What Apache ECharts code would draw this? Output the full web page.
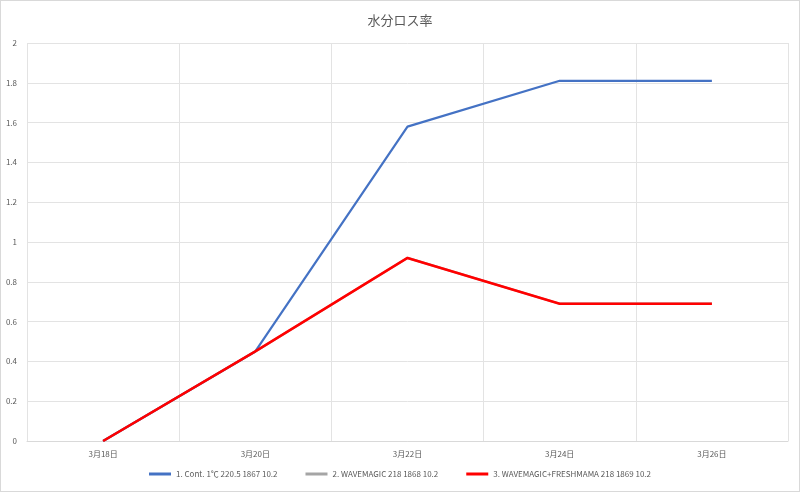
<!DOCTYPE html>
<html>
<head>
<meta charset="utf-8">
<script src="https://cdn.jsdelivr.net/npm/echarts@6/dist/echarts.min.js"></script>
<style>
html,body{margin:0;padding:0;background:#fff;}
#wrap{position:absolute;left:0;top:0;width:798px;height:490px;border:1px solid #d9d9d9;}
#c{width:798px;height:490px;}
</style>
</head>
<body>
<div id="wrap"><div id="c"></div></div>
<script>
const titleText = '水分ロス率';
const categories = ['3月18日', '3月20日', '3月22日', '3月24日', '3月26日'];
const seriesNames = ['1. Cont. 1℃ 220.5 1867 10.2', '2. WAVEMAGIC 218 1868 10.2', '3. WAVEMAGIC+FRESHMAMA 218 1869 10.2'];
const contValues = [0, 0.45, 1.58, 1.81, 1.81];
const waveValues = [0, 0.45, 0.92, 0.69, 0.69];
const waveFreshValues = [0, 0.45, 0.92, 0.69, 0.69];
const yTicks = { min: 0, max: 2, interval: 0.2 };

const font = '"Noto Sans CJK JP", "Noto Sans", sans-serif';
const chart = echarts.init(document.getElementById('c'), null, { renderer: 'canvas' });
chart.setOption({
  animation: false,
  backgroundColor: '#fff',
  title: {
    text: titleText, left: 'center', top: 8,
    textStyle: { fontFamily: font, fontSize: 13, fontWeight: 'normal', color: '#595959' }
  },
  legend: {
    bottom: 8, itemWidth: 22, itemHeight: 3, itemGap: 28,
    icon: 'rect',
    textStyle: { fontFamily: font, fontSize: 8, color: '#595959' },
    data: seriesNames
  },
  grid: { left: 26, right: 11, top: 42, bottom: 50, containLabel: false },
  xAxis: {
    type: 'category', data: categories, boundaryGap: true,
    axisLine: { lineStyle: { color: '#d9d9d9' } },
    axisTick: { show: false },
    axisLabel: { fontFamily: font, fontSize: 8, color: '#595959', margin: 9 },
    splitLine: { show: true, lineStyle: { color: '#e3e3e3', width: 1 } }
  },
  yAxis: {
    type: 'value', min: yTicks.min, max: yTicks.max, interval: yTicks.interval,
    axisLine: { show: false }, axisTick: { show: false },
    axisLabel: { fontFamily: font, fontSize: 8, color: '#595959', margin: 10,
      formatter: v => String(Math.round(v * 10) / 10) },
    splitLine: { lineStyle: { color: '#e3e3e3', width: 1 } }
  },
  series: [
    { name: seriesNames[0], type: 'line', data: contValues, symbol: 'none',
      lineStyle: { color: '#4472c4', width: 2.2 }, itemStyle: { color: '#4472c4' }, z: 3 },
    { name: seriesNames[1], type: 'line', data: waveValues, symbol: 'none',
      lineStyle: { color: '#a5a5a5', width: 2.2 }, itemStyle: { color: '#a5a5a5' }, z: 2 },
    { name: seriesNames[2], type: 'line', data: waveFreshValues, symbol: 'none',
      lineStyle: { color: '#ff0000', width: 2.6 }, itemStyle: { color: '#ff0000' }, z: 4 }
  ]
});
</script>
</body>
</html>
